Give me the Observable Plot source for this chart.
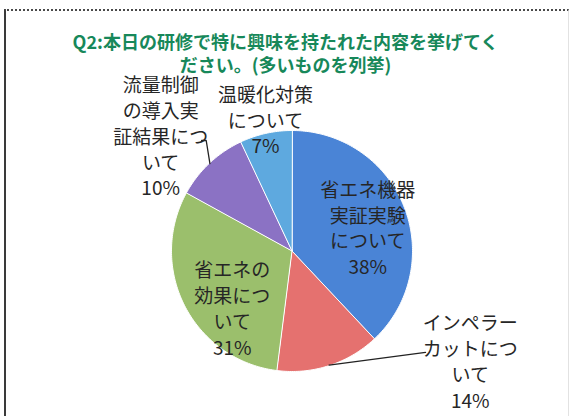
<!DOCTYPE html>
<html>
<head>
<meta charset="utf-8">
<script src="https://cdn.jsdelivr.net/npm/d3@7"></script>
<script src="https://cdn.jsdelivr.net/npm/@observablehq/plot@0.6"></script>
<style>
  html, body { margin: 0; padding: 0; background: #fff; }
  #wrap { position: relative; width: 572px; height: 416px; overflow: hidden; }
  #border { position: absolute; left: 4px; top: 9px; width: 565px; height: 420px;
            border-left: 2px solid #3a3a3a; border-top: 2px dotted #4a4a4a; border-right: 1px solid #e2e2e2; box-sizing: border-box; }
  #chart { position: absolute; left: 0; top: 0; }
</style>
</head>
<body>
<div id="wrap"><div id="border"></div><div id="chart"></div></div>
<script>
// ---- data ----
const titleLines = ["Q2:本日の研修で特に興味を持たれた内容を挙げてく", "ださい。(多いものを列挙)"];
const categories = ["省エネ機器実証実験について", "インペラーカットについて", "省エネの効果について", "流量制御の導入実証結果について", "温暖化対策について"];
const labelTexts = ["省エネ機器\n実証実験\nについて", "インペラー\nカットにつ\nいて", "省エネの\n効果につ\nいて", "流量制御\nの導入実\n証結果につ\nいて", "温暖化対策\nについて"];
const percents = [38, 14, 31, 10, 7];
const colors = ["#4a84d6", "#e5716f", "#9bbf6c", "#8b72c4", "#5ea9df"];

// ---- layout (not data) ----
const labelRadius = [0.65, 1.35, 0.65, 1.35, 1.35];
const labelShift = [[3, 5], [128, -45], [10, 21], [-20, 3], [9, 27]];
const leaderBends = {1: [[1.108, -0.842]], 3: [[-0.712, 0.917], [-0.75, 0.917]]};

// ---- geometry from the data ----
const arcs = d3.pie().sort(null).value(d => d)(percents);
const at = (a, r) => ({x: r * Math.sin(a), y: r * Math.cos(a)});

const slicePts = [];
arcs.forEach((a, i) => {
  slicePts.push({cat: categories[i], ...at(0, 0)});
  const n = Math.max(2, Math.ceil((a.endAngle - a.startAngle) / (Math.PI / 180)));
  for (let k = 0; k <= n; k++) {
    const t = a.startAngle + (a.endAngle - a.startAngle) * k / n;
    slicePts.push({cat: categories[i], ...at(t, 1)});
  }
});

const labels = arcs.map((a, i) => {
  const mid = (a.startAngle + a.endAngle) / 2;
  return {cat: categories[i], text: labelTexts[i] + "\n" + percents[i] + "%", ...at(mid, labelRadius[i]), dx: labelShift[i][0], dy: labelShift[i][1]};
});

const leaders = [];
Object.entries(leaderBends).forEach(([i, pts]) => {
  const a = arcs[+i];
  const mid = (a.startAngle + a.endAngle) / 2;
  leaders.push({id: i, ...at(mid, 0.995)});
  pts.forEach(p => leaders.push({id: i, x: p[0], y: p[1]}));
});

const font = "'Noto Sans CJK JP', 'Noto Sans', sans-serif";

const plot = Plot.plot({
  width: 572,
  height: 416,
  margin: 0,
  style: {fontFamily: font, background: "transparent"},
  x: {domain: [-1, 1], range: [171, 412], axis: null},
  y: {domain: [-1, 1], range: [371, 130], axis: null},
  color: {domain: categories, range: colors},
  marks: [
    Plot.line(slicePts, {x: "x", y: "y", z: "cat", fill: "cat", stroke: "white", strokeWidth: 1, curve: "linear-closed"}),
    Plot.line(leaders, {x: "x", y: "y", z: "id", stroke: "#222", strokeWidth: 1.3}),
    ...labels.map(l => Plot.text([l], {x: "x", y: "y", text: "text", dx: l.dx, dy: l.dy, fontSize: 19, lineHeight: 1.36, fill: "#262626", lineAnchor: "middle"})),
    Plot.text([titleLines.join("\n")], {frameAnchor: "top", dx: -1, dy: 53, fontSize: 18, lineHeight: 1.25, lineAnchor: "middle", fontWeight: "bold", fill: "#17885a"})
  ]
});
document.getElementById("chart").appendChild(plot);
</script>
</body>
</html>
